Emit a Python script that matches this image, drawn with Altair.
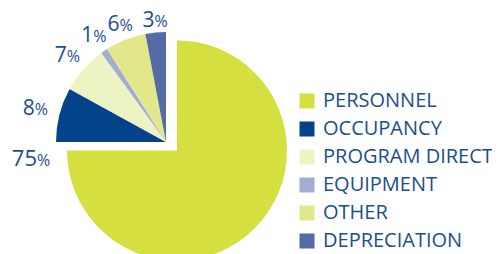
import altair as alt
import pandas as pd

categories = ["PERSONNEL", "OCCUPANCY", "PROGRAM DIRECT", "EQUIPMENT", "OTHER", "DEPRECIATION"]
shares = [75, 8, 7, 1, 6, 3]
numbers = ["75", "8", "7", "1", "6", "3"]
colors = ["#d5df3f", "#02438b", "#eef3c4", "#a3add4", "#e2e88a", "#566ba6"]

df = pd.DataFrame({
    "category": categories,
    "share": shares,
    "num": numbers,
    "idx": list(range(len(categories))),
})

W, H = 484, 246
BIG = (169, 142.5)
SMALL = (158, 134)
R = 110
TXT = "#1c4e8f"
FONT = "Open Sans"

base = alt.Chart(df).transform_window(
    cum="sum(share)", sort=[alt.SortField("idx")], frame=[None, 0]
).transform_calculate(
    start="datum.cum - datum.share",
    mid="datum.cum - datum.share / 2",
).transform_calculate(
    # labels sit further out at the sides than at the top (wider than tall)
    lr="121 + 15 * abs(sin(datum.mid / 100 * 2 * PI))",
)

theta_scale = alt.Scale(domain=[0, 100], range=[0, 6.283185307179586])

color = alt.Color(
    "category:N",
    scale=alt.Scale(domain=categories, range=colors),
    legend=alt.Legend(
        orient="none", legendX=289, legendY=83, title=None,
        symbolType="square", symbolSize=225, symbolStrokeWidth=0,
        symbolOpacity=1,
        labelFontSize=20, labelFont=FONT, labelColor=TXT, labelLimit=400,
        labelOffset=6, rowPadding=8, padding=0,
    ),
)

big = base.transform_filter("datum.idx == 0").mark_arc(radius=R).encode(
    theta=alt.Theta("start:Q", scale=theta_scale, stack=False),
    theta2="cum:Q",
    color=color,
    x=alt.value(BIG[0]), y=alt.value(BIG[1]),
)

small = base.transform_filter("datum.idx > 0").mark_arc(radius=R).encode(
    theta=alt.Theta("start:Q", scale=theta_scale, stack=False),
    theta2="cum:Q",
    color=color,
    x=alt.value(SMALL[0]), y=alt.value(SMALL[1]),
)

num_small = base.transform_filter("datum.idx > 0").mark_text(
    align="right", baseline="alphabetic", dy=7,
    fontSize=21, font=FONT, color=TXT,
).encode(
    theta=alt.Theta("mid:Q", scale=theta_scale, stack=False),
    radius=alt.Radius("lr:Q", scale=None),
    text="num:N",
    x=alt.value(SMALL[0]), y=alt.value(SMALL[1]),
)

pct_small = base.transform_filter("datum.idx > 0").mark_text(
    align="left", baseline="alphabetic", dy=7,
    fontSize=16, font=FONT, color=TXT,
).encode(
    theta=alt.Theta("mid:Q", scale=theta_scale, stack=False),
    radius=alt.Radius("lr:Q", scale=None),
    text=alt.value("%"),
    x=alt.value(SMALL[0]), y=alt.value(SMALL[1]),
)

num_big = base.transform_filter("datum.idx == 0").mark_text(
    radius=140, align="right", baseline="alphabetic", dy=15,
    fontSize=22, font=FONT, color=TXT,
).encode(
    theta=alt.Theta("cum:Q", scale=theta_scale, stack=False),
    text="num:N",
    x=alt.value(BIG[0]), y=alt.value(BIG[1]),
)

pct_big = base.transform_filter("datum.idx == 0").mark_text(
    radius=140, align="left", baseline="alphabetic", dy=15,
    fontSize=16, font=FONT, color=TXT,
).encode(
    theta=alt.Theta("cum:Q", scale=theta_scale, stack=False),
    text=alt.value("%"),
    x=alt.value(BIG[0]), y=alt.value(BIG[1]),
)

chart = alt.layer(big, small, num_small, pct_small, num_big, pct_big).properties(
    width=W, height=H,
    autosize=alt.AutoSizeParams(type="none"),
    padding=0,
).configure_view(stroke=None)

chart.save("out.html", embed_options={"renderer": "svg", "actions": False})
